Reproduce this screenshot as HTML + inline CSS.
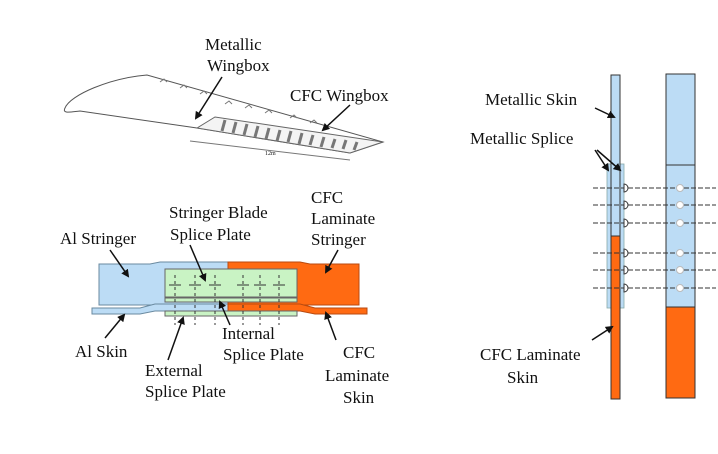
<!DOCTYPE html>
<html><head><meta charset="utf-8"><style>
html,body{margin:0;padding:0;background:#fff;}
svg{display:block;}
text{font-family:"Liberation Serif",serif;font-size:17px;fill:#111;}
</style></head><body>
<svg width="718" height="454" viewBox="0 0 718 454" xmlns="http://www.w3.org/2000/svg">
<defs>
<marker id="ar" markerWidth="8" markerHeight="8" refX="6" refY="4" orient="auto" markerUnits="userSpaceOnUse"><path d="M0,0 L8,4 L0,8 z" fill="#111"/></marker>
</defs>
<!-- Wing -->
<path d="M147,75 C110,78 70,95 65,108 C62,114 70,112 80,111 L197,128 L350,153 L383,142 L147,75 z" fill="none" stroke="#555" stroke-width="1"/>
<path d="M197,128 L215,117 L383,142 L350,153 z" fill="#f4f4f4" stroke="#666" stroke-width="1"/>
<g stroke="#777" stroke-width="3">
<line x1="225" y1="120" x2="222" y2="131"/><line x1="236" y1="122" x2="233" y2="133"/><line x1="247" y1="124" x2="244" y2="135"/><line x1="258" y1="126" x2="255" y2="137"/><line x1="269" y1="128" x2="266" y2="139"/><line x1="280" y1="130" x2="277" y2="141"/><line x1="291" y1="131" x2="288" y2="142"/><line x1="302" y1="133" x2="299" y2="144"/><line x1="313" y1="135" x2="310" y2="145"/><line x1="324" y1="137" x2="321" y2="147"/><line x1="335" y1="139" x2="332" y2="148"/><line x1="346" y1="140" x2="343" y2="149"/><line x1="357" y1="142" x2="354" y2="150"/>
</g>
<g stroke="#777" stroke-width="1" fill="none">
<path d="M160,82 l4,-3 l3,3"/><path d="M180,88 l4,-3 l3,3"/><path d="M200,94 l4,-3 l3,3"/><path d="M225,104 l4,-3 l3,3"/><path d="M245,108 l4,-3 l3,3"/><path d="M265,113 l4,-3 l3,3"/><path d="M290,118 l4,-3 l3,3"/><path d="M310,123 l4,-3 l3,3"/>
<line x1="190" y1="141" x2="350" y2="160"/>
</g>
<text x="265" y="155" style="font-size:6px">12m</text>
<line x1="222" y1="77" x2="196" y2="118" stroke="#111" stroke-width="1.5" marker-end="url(#ar)"/>
<line x1="350" y1="105" x2="323" y2="130" stroke="#111" stroke-width="1.5" marker-end="url(#ar)"/>
<text x="205" y="50">Metallic</text><text x="207" y="71">Wingbox</text>
<text x="290" y="101">CFC Wingbox</text>

<!-- Splice diagram -->
<path d="M99,264 L150,264 L160,262 L228,262 L228,305 L99,305 z" fill="#bcdcf5" stroke="#6a8aa0" stroke-width="1"/>
<path d="M228,262 L300,262 L310,264 L359,264 L359,305 L228,305 z" fill="#ff6a12" stroke="#b84a10" stroke-width="1"/>
<path d="M92,308 L140,308 L155,304 L228,304 L228,311 L155,311 L140,314 L92,314 z" fill="#bcdcf5" stroke="#6a8aa0" stroke-width="1"/>
<path d="M228,304 L300,304 L315,308 L367,308 L367,314 L315,314 L300,311 L228,311 z" fill="#ff6a12" stroke="#b84a10" stroke-width="1"/>
<rect x="165" y="269" width="132" height="28" fill="#c9f3c4" stroke="#666" stroke-width="1"/>
<rect x="165" y="298" width="132" height="4" fill="#c9f3c4" stroke="#666" stroke-width="1"/>
<rect x="165" y="311" width="132" height="5" fill="#c9f3c4" stroke="#666" stroke-width="1"/>
<g stroke="#333" stroke-width="1" stroke-dasharray="3,3">
<line x1="175" y1="275" x2="175" y2="325"/><line x1="195" y1="275" x2="195" y2="325"/><line x1="215" y1="275" x2="215" y2="325"/><line x1="243" y1="275" x2="243" y2="325"/><line x1="260" y1="275" x2="260" y2="325"/><line x1="279" y1="275" x2="279" y2="325"/>
</g>
<g stroke="#333" stroke-width="1">
<line x1="169" y1="285" x2="181" y2="285"/><line x1="189" y1="285" x2="201" y2="285"/><line x1="209" y1="285" x2="221" y2="285"/><line x1="237" y1="285" x2="249" y2="285"/><line x1="254" y1="285" x2="266" y2="285"/><line x1="273" y1="285" x2="285" y2="285"/>
</g>
<g stroke="#111" stroke-width="1.5" marker-end="url(#ar)">
<line x1="110" y1="250" x2="128" y2="276"/>
<line x1="190" y1="245" x2="205" y2="280"/>
<line x1="338" y1="250" x2="326" y2="272"/>
<line x1="105" y1="338" x2="124" y2="315"/>
<line x1="168" y1="360" x2="183" y2="318"/>
<line x1="230" y1="325" x2="220" y2="302"/>
<line x1="336" y1="340" x2="326" y2="313"/>
</g>
<text x="60" y="244">Al Stringer</text>
<text x="169" y="218">Stringer Blade</text><text x="170" y="240">Splice Plate</text>
<text x="311" y="203">CFC</text><text x="311" y="224">Laminate</text><text x="311" y="245">Stringer</text>
<text x="75" y="357">Al Skin</text>
<text x="222" y="339">Internal</text><text x="223" y="360">Splice Plate</text>
<text x="145" y="376">External</text><text x="145" y="397">Splice Plate</text>
<text x="343" y="358">CFC</text><text x="325" y="381">Laminate</text><text x="343" y="403">Skin</text>

<!-- Right diagram -->
<rect x="607" y="164" width="17" height="144" fill="#bcdcf5" stroke="#8aa" stroke-width="0.8"/>
<rect x="611" y="75" width="9" height="161" fill="#bcdcf5" stroke="#333" stroke-width="1"/>
<rect x="611" y="236" width="9" height="163" fill="#ff6a12" stroke="#333" stroke-width="1"/>
<rect x="666" y="74" width="29" height="233" fill="#bcdcf5" stroke="#333" stroke-width="1"/>
<line x1="666" y1="165" x2="695" y2="165" stroke="#333"/>
<rect x="666" y="307" width="29" height="91" fill="#ff6a12" stroke="#333" stroke-width="1"/>
<g stroke="#333" stroke-width="1" stroke-dasharray="5,2">
<line x1="593" y1="188" x2="716" y2="188"/><line x1="593" y1="205" x2="716" y2="205"/><line x1="593" y1="223" x2="716" y2="223"/><line x1="593" y1="253" x2="716" y2="253"/><line x1="593" y1="270" x2="716" y2="270"/><line x1="593" y1="288" x2="716" y2="288"/>
</g>
<g fill="#fff" stroke="#333" stroke-width="1">
<path d="M624,184 a4,4 0 0 1 0,8 z"/><path d="M624,201 a4,4 0 0 1 0,8 z"/><path d="M624,219 a4,4 0 0 1 0,8 z"/><path d="M624,249 a4,4 0 0 1 0,8 z"/><path d="M624,266 a4,4 0 0 1 0,8 z"/><path d="M624,284 a4,4 0 0 1 0,8 z"/>
</g>
<g fill="#fff" stroke="#bbb" stroke-width="1">
<circle cx="680" cy="188" r="3.5"/><circle cx="680" cy="205" r="3.5"/><circle cx="680" cy="223" r="3.5"/><circle cx="680" cy="253" r="3.5"/><circle cx="680" cy="270" r="3.5"/><circle cx="680" cy="288" r="3.5"/>
</g>
<g stroke="#111" stroke-width="1.5" marker-end="url(#ar)">
<line x1="595" y1="108" x2="614" y2="117"/>
<line x1="595" y1="150" x2="608" y2="170"/>
<line x1="597" y1="150" x2="620" y2="170"/>
<line x1="592" y1="340" x2="612" y2="327"/>
</g>
<text x="485" y="105">Metallic Skin</text>
<text x="470" y="144">Metallic Splice</text>
<text x="480" y="360">CFC Laminate</text><text x="507" y="383">Skin</text>
</svg>
</body></html>
